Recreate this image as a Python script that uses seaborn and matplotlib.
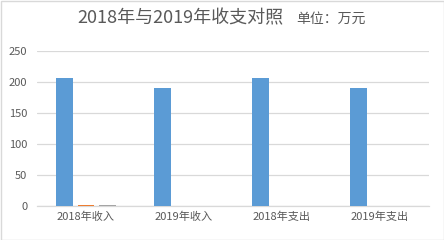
import matplotlib
matplotlib.use("Agg")
import matplotlib.pyplot as plt
import seaborn as sns
import pandas as pd
from matplotlib.patches import Rectangle

categories = ["2018年收入", "2019年收入", "2018年支出", "2019年支出"]
series_names = ["系列1", "系列2", "系列3"]
series1 = [206.5, 190, 206.5, 190]
series2 = [2.0, 0, 0, 0]
series3 = [1.8, 0, 0, 0]
yticks = [0, 50, 100, 150, 200, 250]

rows = []
for name, vals in zip(series_names, [series1, series2, series3]):
    for c, v in zip(categories, vals):
        rows.append({"category": c, "series": name, "value": v})
df = pd.DataFrame(rows)

sns.set_theme(style="white")
plt.rcParams['font.family'] = ['Noto Sans CJK SC', 'DejaVu Sans']

fig = plt.figure(figsize=(4.44, 2.40), dpi=100)
ax = fig.add_axes([37/444, 1-206/240, (429-37)/444, (206-51)/240])

palette = ["#5B9BD5", "#ED7D31", "#A5A5A5"]
sns.barplot(data=df, x="category", y="value", hue="series", palette=palette,
            width=0.673, gap=0.227, ax=ax, legend=False, saturation=1, zorder=3,
            linewidth=0, edgecolor="none")

ax.set_ylim(0, 250)
ax.set_yticks(yticks)
ax.set_xlim(-0.5, 3.5)
ax.yaxis.grid(True, color="#d9d9d9", linewidth=0.9)
ax.set_axisbelow(True)
for s in ["top", "right", "left"]:
    ax.spines[s].set_visible(False)
ax.spines["bottom"].set_color("#d9d9d9")
ax.spines["bottom"].set_linewidth(0.9)
ax.spines["bottom"].set_zorder(1)
ax.set_xlabel("")
ax.set_ylabel("")
ax.tick_params(axis="both", length=0, labelsize=8, labelcolor="#595959")
ax.tick_params(axis="x", pad=4)
ax.tick_params(axis="y", pad=7)

fig.text(180/444, 1-18/240, "2018年与2019年收支对照", ha="center", va="center",
         fontsize=13, color="#595959")
fig.text(331/444, 1-19/240, "单位：万元", ha="center", va="center",
         fontsize=10, color="#595959")

fig.patches.append(Rectangle((0.5/444, 0.5/240), 443/444, 239/240, transform=fig.transFigure,
                             fill=False, edgecolor="#d9d9d9", linewidth=1))

fig.savefig("out.png", dpi=100)
